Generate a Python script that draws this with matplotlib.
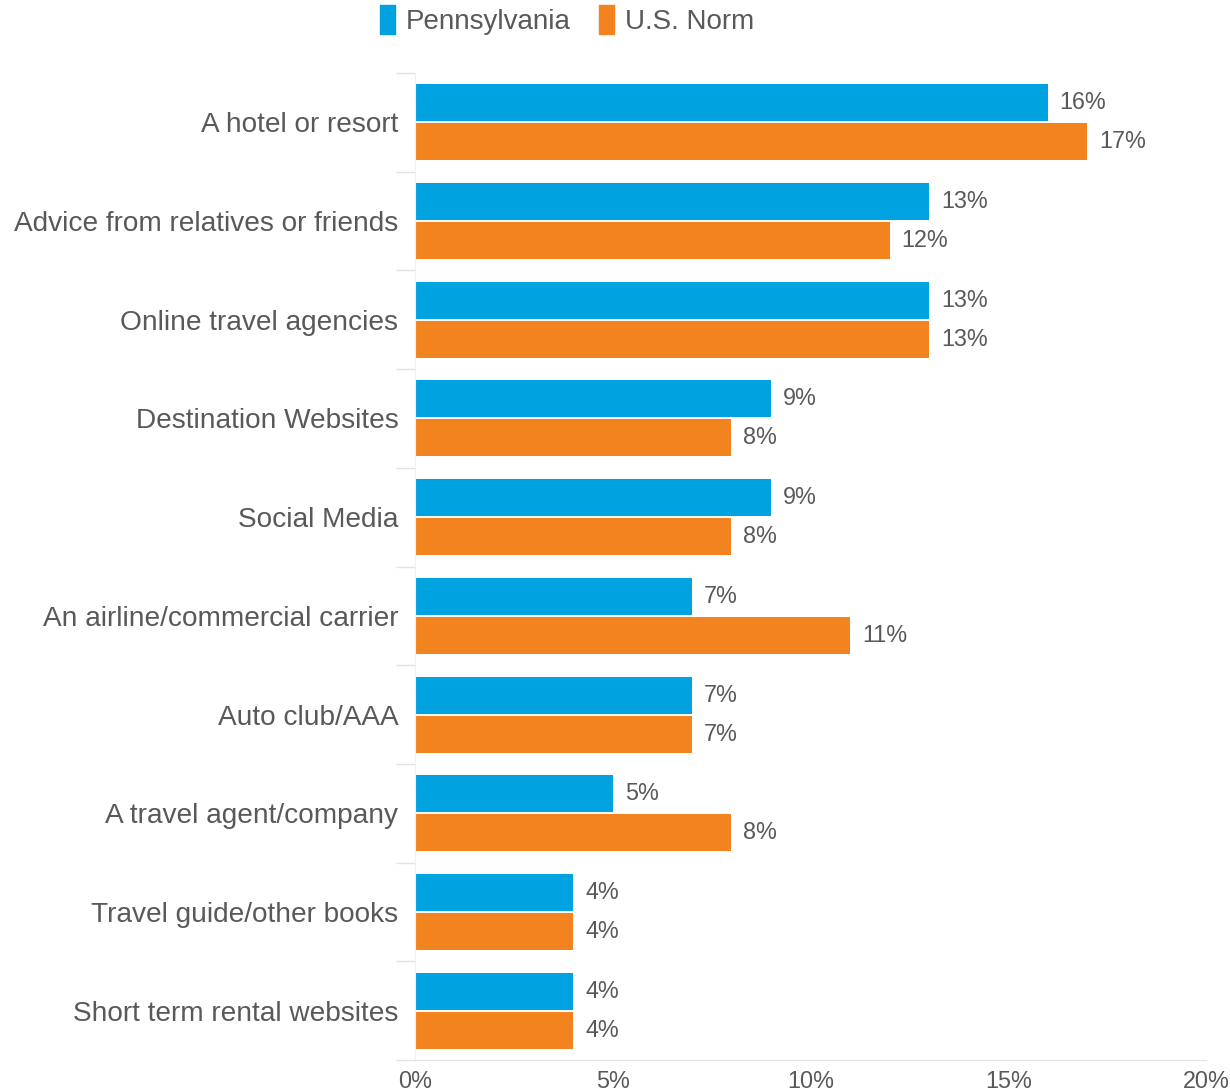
import numpy as np
import matplotlib.pyplot as plt
from matplotlib.patches import Patch

plt.rcParams['font.family'] = ['Liberation Sans', 'DejaVu Sans']

categories = ['A hotel or resort', 'Advice from relatives or friends', 'Online travel agencies',
              'Destination Websites', 'Social Media', 'An airline/commercial carrier',
              'Auto club/AAA', 'A travel agent/company', 'Travel guide/other books',
              'Short term rental websites']
pennsylvania = [16, 13, 13, 9, 9, 7, 7, 5, 4, 4]
us_norm = [17, 12, 13, 8, 8, 11, 7, 8, 4, 4]
xticks = [0, 5, 10, 15, 20]

blue = '#00A2E0'
orange = '#F3831F'
txt = '#595959'
grid = '#E3E3E3'

fig = plt.figure(figsize=(12.3, 10.91), dpi=100)
ax = fig.add_axes([415/1230, 1 - 1060/1091, (1206-415)/1230, (1060-73)/1091])

y = np.arange(len(categories))
h = 0.375
ax.barh(y - h/2 - 0.01, pennsylvania, height=h, color=blue)
ax.barh(y + h/2 + 0.01, us_norm, height=h, color=orange)

# value labels next to each bar end
for yi, v in zip(y, pennsylvania):
    ax.text(v + 0.3, yi - h/2 - 0.01, f'{v}%', va='center', ha='left', fontsize=16.8, color=txt)
for yi, v in zip(y, us_norm):
    ax.text(v + 0.3, yi + h/2 + 0.01, f'{v}%', va='center', ha='left', fontsize=16.8, color=txt)

ax.set_xlim(0, 20)
ax.set_ylim(len(categories) - 0.5, -0.5)

ax.set_yticks(y)
ax.set_yticklabels(categories, fontsize=20.2, color=txt)
ax.set_yticks(np.arange(-0.5, len(categories)), minor=True)
ax.tick_params(axis='y', which='major', length=0, pad=12)
ax.tick_params(axis='y', which='minor', length=14, color=grid, width=1)

ax.set_xticks(xticks)
ax.set_xticklabels([f'{t}%' for t in xticks], fontsize=16.8, color=txt)
ax.tick_params(axis='x', length=0, pad=7)

for s in ['top', 'right']:
    ax.spines[s].set_visible(False)
ax.spines['left'].set_color('#EDF1F5')
ax.spines['bottom'].set_color(grid)

handles = [Patch(color=blue, label='Pennsylvania'), Patch(color=orange, label='U.S. Norm')]
fig.legend(handles=handles, loc='center', bbox_to_anchor=(567/1230, 1 - 20/1091), ncol=2,
           frameon=False, fontsize=20, handlelength=0.55, handleheight=1.2,
           handletextpad=0.4, columnspacing=1.0, labelcolor=txt)

fig.savefig('out.png', dpi=100)
